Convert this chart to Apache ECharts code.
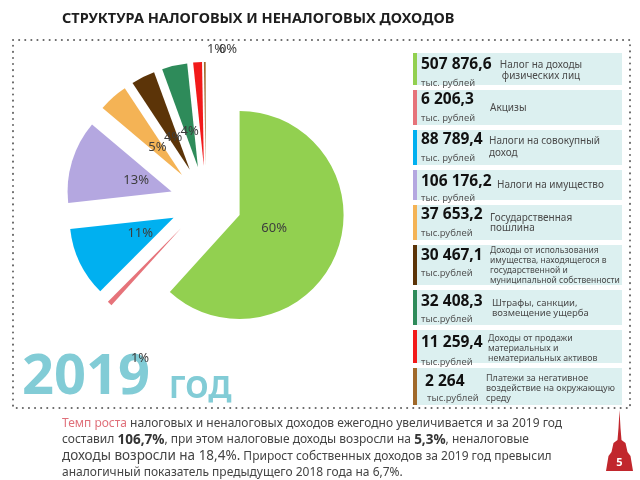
<!DOCTYPE html>
<html>
<head>
<meta charset="utf-8" />
<title>Структура налоговых и неналоговых доходов</title>
<script src="https://cdn.jsdelivr.net/npm/echarts@6.0.0/dist/echarts.min.js"></script>
<style>
    html, body { margin: 0; padding: 0; background: #fff; }
    #main { width: 640px; height: 480px; }
</style>
</head>
<body>
<div id="main"></div>
<script type="text/javascript">
    // данные (тыс. рублей)
    var names = ['Налог на доходы физических лиц', 'Акцизы', 'Налоги на совокупный доход', 'Налоги на имущество',
        'Государственная пошлина', 'Доходы от использования имущества', 'Штрафы, санкции, возмещение ущерба',
        'Доходы от продажи материальных и нематериальных активов', 'Платежи за негативное воздействие на окружающую среду'];
    var values = [507876.6, 6206.3, 88789.4, 106176.2, 37653.2, 30467.1, 32408.3, 11259.4, 2264];
    var valueLabels = ['507 876,6', '6 206,3', '88 789,4', '106 176,2', '37 653,2', '30 467,1', '32 408,3', '11 259,4', '2 264'];
    var units = ['тыс. рублей', 'тыс. рублей', 'тыс. рублей', 'тыс. рублей', 'тыс.рублей', 'тыс.рублей', 'тыс.рублей', 'тыс.рублей', 'тыс.рублей'];
    var descriptions = [
        'Налог на доходы\nфизических лиц',
        'Акцизы',
        'Налоги на совокупный\nдоход',
        'Налоги на имущество',
        'Государственная\nпошлина',
        'Доходы от использования\nимущества, находящегося в\nгосударственной и\nмуниципальной собственности',
        'Штрафы, санкции,\nвозмещение ущерба',
        'Доходы от продажи\nматериальных и\nнематериальных активов',
        'Платежи за негативное\nвоздействие на окружающую\nсреду'
    ];
    var pctLabels = ['60%', '1%', '11%', '13%', '5%', '4%', '4%', '1%', '0%'];

    // оформление
    var colors = ['#92d050', '#e6737a', '#00b0f0', '#b4a7e0', '#f4b355', '#5c3408', '#2e8b5a', '#f21a1a', '#a0692a'];
    var boxTop = [53, 90, 130, 170, 205, 245, 290, 330, 368];
    var boxBottom = [85, 125, 165, 200, 240, 285, 325, 363, 405];
    var valueY = [65, 100, 140, 182, 215, 256, 302, 343, 382];
    var unitY = [83, 118, 158, 198, 233, 273, 319, 362, 398];
    var descX = [541, 490, 489, 497, 490, 490, 492, 488, 486];
    var descY = [65, 108, 141, 185, 218, 251, 303, 338, 378];
    var descSize = [10, 10, 10, 10, 10, 8.5, 9.5, 8.8, 9];
    var descLH = [11.5, 10, 12, 10, 10.5, 10, 10.5, 10, 10];
    // подписи мелких секторов вынесены, как в исходнике
    var smallLabelPos = { 1: [140, 358], 7: [216, 49], 8: [228, 49] };

    var FONT = '"Noto Sans", "Open Sans", sans-serif';

    var elements = [];
    elements.push({
        type: 'text', left: 62, top: 11,
        style: { text: 'СТРУКТУРА НАЛОГОВЫХ И НЕНАЛОГОВЫХ ДОХОДОВ', font: 'bold 14.5px ' + FONT, fill: '#1e1e1e' }
    });
    elements.push({
        type: 'rect', shape: { x: 13, y: 40, width: 617, height: 368 },
        style: { fill: 'none', stroke: '#666', lineWidth: 2, lineDash: [0.1, 6], lineCap: 'round' }
    });
    for (var i = 0; i < values.length; i++) {
        elements.push({ type: 'rect', shape: { x: 413, y: boxTop[i], width: 209, height: boxBottom[i] - boxTop[i] }, style: { fill: '#dcf0f0' } });
        elements.push({ type: 'rect', shape: { x: 413, y: boxTop[i], width: 4, height: boxBottom[i] - boxTop[i] }, style: { fill: colors[i] } });
        elements.push({
            type: 'text', x: i === 8 ? 425 : 421, y: valueY[i],
            style: { text: valueLabels[i], font: 'bold 15.5px ' + FONT, fill: '#111', textVerticalAlign: 'middle' }
        });
        elements.push({
            type: 'text', x: i === 8 ? 427 : 421, y: unitY[i],
            style: { text: units[i], font: '9.5px ' + FONT, fill: '#555', textVerticalAlign: 'middle' }
        });
        elements.push({
            type: 'text', x: descX[i], y: descY[i] - descLH[i] / 2,
            style: {
                text: descriptions[i], font: descSize[i] + 'px ' + FONT, fill: '#4a4a4a',
                lineHeight: descLH[i], textAlign: i === 0 ? 'center' : 'left', textVerticalAlign: 'top'
            }
        });
    }
    elements.push({
        type: 'text', x: 22, y: 378,
        style: { text: '2019', font: 'bold 56px ' + FONT, fill: '#82ccd6', textVerticalAlign: 'middle' }
    });
    elements.push({
        type: 'text', x: 169, y: 389,
        style: { text: 'ГОД', font: 'bold 30px ' + FONT, fill: '#82ccd6', textVerticalAlign: 'middle' }
    });
    for (var s in smallLabelPos) {
        elements.push({
            type: 'text', x: smallLabelPos[s][0], y: smallLabelPos[s][1], z: 10,
            style: { text: pctLabels[s], font: '13px ' + FONT, fill: '#3d3d3d', textAlign: 'center', textVerticalAlign: 'middle' }
        });
    }
    elements.push({
        type: 'text', x: 62, y: 415,
        style: {
            text: '{p|Темп роста}{n| налоговых и неналоговых доходов ежегодно увеличивается и за 2019 год}\n' +
                '{n|составил }{b|106,7%}{n|, при этом налоговые доходы возросли на }{b|5,3%}{n|, неналоговые}\n' +
                '{l|доходы возросли на 18,4%.}{n| Прирост собственных доходов за 2019 год превысил}\n' +
                '{n|аналогичный показатель предыдущего 2018 года на 6,7%.}',
            rich: {
                p: { font: '12px ' + FONT, fill: '#e0707a', lineHeight: 16.5 },
                n: { font: '12px ' + FONT, fill: '#444', lineHeight: 16.5 },
                b: { font: 'bold 13.5px ' + FONT, fill: '#333', lineHeight: 16.5 },
                l: { font: '13.5px ' + FONT, fill: '#444', lineHeight: 16.5 }
            }
        }
    });
    elements.push({
        type: 'polygon',
        shape: { points: [[619.5, 410], [620.5, 428], [621.5, 440], [625.5, 443], [627.5, 452], [630.5, 456], [633, 471],
            [606, 471], [608.5, 456], [611.5, 452], [613.5, 443], [617.5, 440], [618.5, 428]] },
        style: { fill: '#c1272d' }
    });
    elements.push({
        type: 'text', x: 619.5, y: 463,
        style: { text: '5', font: 'bold 11px ' + FONT, fill: '#fff', textAlign: 'center', textVerticalAlign: 'middle' }
    });

    var pieData = [], labelData = [];
    for (var k = 0; k < values.length; k++) {
        pieData.push({ value: values[k], name: names[k], selected: true, itemStyle: { color: colors[k] } });
        labelData.push({ value: values[k], name: names[k], selected: true, label: { show: !smallLabelPos[k] } });
    }

    var myChart = echarts.init(document.getElementById('main'));
    var option = {
        animation: false,
        backgroundColor: '#fff',
        graphic: { elements: elements },
        series: [{
            type: 'pie',
            center: [206, 202],
            radius: 104,
            startAngle: 90,
            clockwise: true,
            selectedMode: 'multiple',
            selectedOffset: 36,
            avoidLabelOverlap: false,
            label: { show: false },
            labelLine: { show: false },
            emphasis: { disabled: true },
            data: pieData
        }, {
            // прозрачный внутренний круг — только для подписей долей
            type: 'pie',
            center: [206, 202],
            radius: 68,
            startAngle: 90,
            clockwise: true,
            selectedMode: 'multiple',
            selectedOffset: 36,
            avoidLabelOverlap: false,
            silent: true,
            itemStyle: { color: 'rgba(0,0,0,0)' },
            label: {
                show: true,
                position: 'inside',
                fontSize: 13,
                fontFamily: FONT,
                color: '#3d3d3d',
                formatter: function (p) { return pctLabels[p.dataIndex]; }
            },
            labelLayout: { hideOverlap: false },
            labelLine: { show: false },
            emphasis: { disabled: true },
            data: labelData
        }]
    };
    option && myChart.setOption(option);
</script>
</body>
</html>
